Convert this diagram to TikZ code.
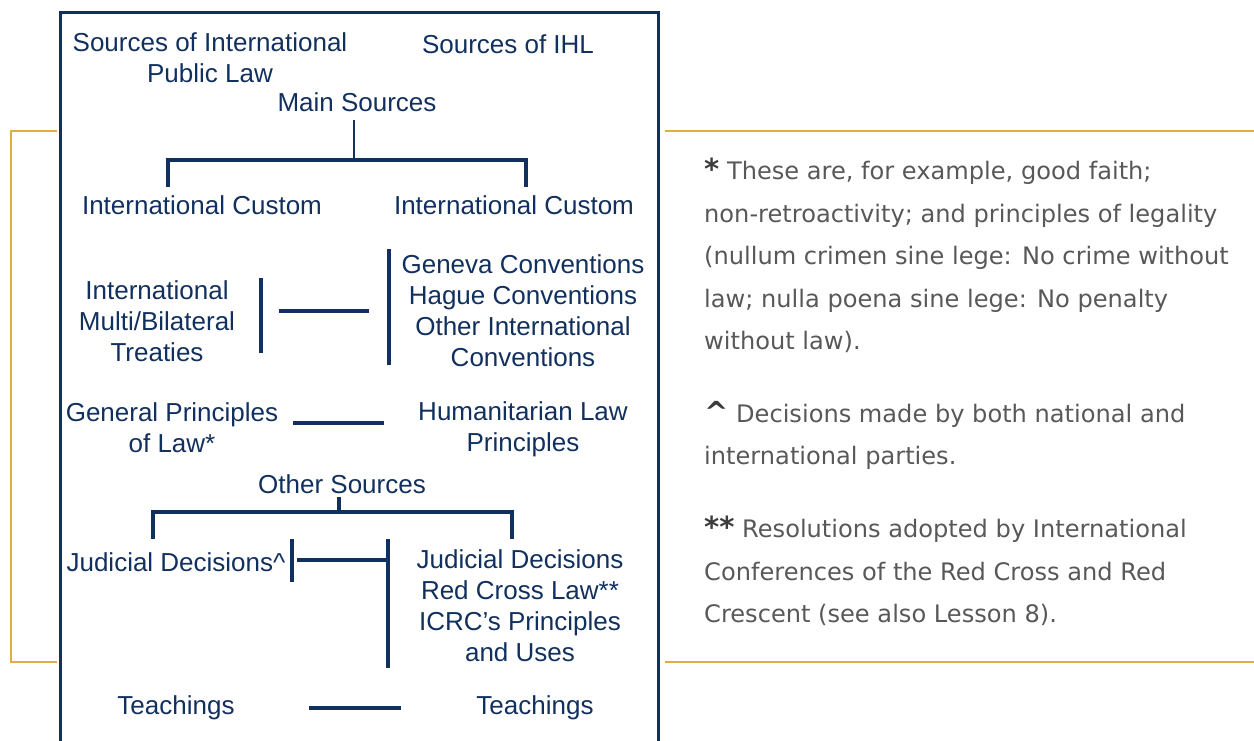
\documentclass[tikz,border=0pt]{standalone}
\usepackage{fontspec}
\setmainfont{Liberation Sans}
\newfontfamily\notefont{DejaVu Sans}
\definecolor{icrcNavy}{RGB}{18,48,94}
\definecolor{icrcGold}{RGB}{222,174,66}
\definecolor{noteGray}{RGB}{88,88,88}
\definecolor{noteDark}{RGB}{60,60,60}
\newcommand{\notemark}[1]{{\fontsize{29}{42.5}\selectfont\bfseries\color{noteDark}#1}}

\begin{document}
\begin{tikzpicture}[x=1pt,y=-1pt,
  lbl/.style={text=icrcNavy, align=center, inner sep=0pt, font=\fontsize{26}{31}\selectfont},
  bar/.style={icrcNavy, line width=3.8pt},
  stem/.style={icrcNavy, line width=2pt},
  goldline/.style={icrcGold, line width=1.2pt},
  note/.style={text=noteGray, anchor=north west, align=left, inner sep=0pt, font=\notefont\fontsize{24.1}{42.5}\selectfont}]
\useasboundingbox (0,0) rectangle (1254,740);
%
\draw [icrcNavy, line width=3pt] (60,12) rectangle (658,748);
\draw [goldline] (57,131) -- (11,131) -- (11,662) -- (57,662);
\draw [goldline] (665,131) -- (1254,131);
\draw [goldline] (665,662) -- (1254,662);
%
\node [lbl] (srcPIL) at (210,58) {Sources of International\\Public Law};
\node [lbl] (srcIHL) at (508,44) {Sources of IHL};
\node [lbl] (mainSrc) at (357,102) {Main Sources};
\node [lbl] (custL) at (202,205) {International Custom};
\node [lbl] (custR) at (514,205) {International Custom};
\node [lbl] (treaties) at (157,321) {International\\Multi/Bilateral\\Treaties};
\node [lbl] (conventions) at (523,311) {Geneva Conventions\\Hague Conventions\\Other International\\Conventions};
\node [lbl] (genPrinc) at (172,428) {General Principles\\of Law*};
\node [lbl] (humPrinc) at (523,429) {Humanitarian Law\\Principles};
\node [lbl] (otherSrc) at (342,484) {Other Sources};
\node [lbl] (judL) at (176,562) {Judicial Decisions\textasciicircum};
\node [lbl] (judR) at (520,606) {Judicial Decisions\\Red Cross Law**\\ICRC’s Principles\\and Uses};
\node [lbl] (teachL) at (176,708) {Teachings};
\node [lbl] (teachR) at (535,708) {Teachings};
%
\coordinate (mainTop) at (354,120);
\coordinate (mainL) at (168,160);
\coordinate (mainR) at (526,160);
\draw [stem] (mainTop) -- (mainTop |- mainL);
\draw [bar] (mainL |- 0,187) -- (mainL) -- (mainR) -- (mainR |- 0,187);
%
\coordinate (treatyBarT) at (261,278);
\coordinate (treatyBarB) at (261,353);
\coordinate (convBarT) at (389,249);
\coordinate (convBarB) at (389,365);
\draw [bar] (treatyBarT) -- (treatyBarB);
\draw [bar] (convBarT) -- (convBarB);
\draw [bar] (279,311) -- (369,311);
%
\coordinate (princL) at (293,423);
\coordinate (princR) at (384,423);
\draw [bar] (princL) -- (princR);
%
\coordinate (otherTop) at (339,497);
\coordinate (otherL) at (153,512);
\coordinate (otherR) at (512,512);
\draw [bar] (otherTop) -- (otherTop |- otherL);
\draw [bar] (otherL |- 0,539) -- (otherL) -- (otherR) -- (otherR |- 0,539);
%
\coordinate (judBarT) at (292,539);
\coordinate (judBarB) at (292,582);
\coordinate (decBarT) at (388,539);
\coordinate (decBarB) at (388,668);
\draw [bar] (judBarT) -- (judBarB);
\draw [bar] (decBarT) -- (decBarB);
\draw [bar] (297,560) -- (decBarT |- 0,560);
%
\coordinate (teachBarL) at (309,708);
\coordinate (teachBarR) at (401,708);
\draw [bar] (teachBarL) -- (teachBarR);
%
\node [note] (noteStar) at (704,158) {\notemark{*} These are, for example, good faith;\\non-retroactivity; and principles of legality\\(nullum crimen sine lege: No crime without\\law; nulla poena sine lege: No penalty\\without law).};
\node [note] (noteCaret) at (704,401) {\notemark{\textasciicircum} Decisions made by both national and\\international parties.};
\node [note] (noteDouble) at (704,516) {\notemark{**} Resolutions adopted by International\\Conferences of the Red Cross and Red\\Crescent (see also Lesson 8).};
\end{tikzpicture}
\end{document}
